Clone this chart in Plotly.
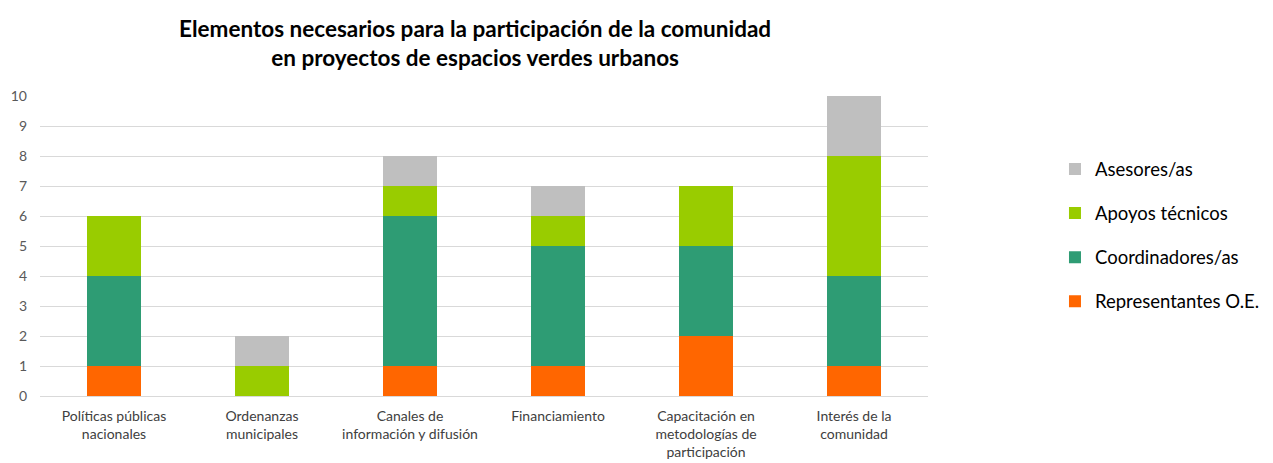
import plotly.graph_objects as go

categories = ["Políticas públicas<br>nacionales", "Ordenanzas<br>municipales",
              "Canales de<br>información y difusión", "Financiamiento",
              "Capacitación en<br>metodologías de<br>participación", "Interés de la<br>comunidad"]
representantes = [1, 0, 1, 1, 2, 1]
coordinadores = [3, 0, 5, 4, 3, 3]
apoyos = [2, 1, 1, 1, 2, 4]
asesores = [0, 1, 1, 1, 0, 2]

series = [
    ("Representantes O.E.", representantes, "#FF6600"),
    ("Coordinadores/as", coordinadores, "#2E9C74"),
    ("Apoyos técnicos", apoyos, "#99CC00"),
    ("Asesores/as", asesores, "#BFBFBF"),
]

font = "Lato, Open Sans, sans-serif"
fig = go.Figure()
for i, (name, vals, col) in enumerate(series):
    fig.add_trace(go.Bar(x=categories, y=vals, name=name, marker_color=col,
                         marker_line_width=0, legendgroup=str(i),
                         legendrank=10 - i))

fig.update_layout(
    width=1265, height=455,
    barmode="stack", bargap=0.64,
    plot_bgcolor="white", paper_bgcolor="white",
    margin=dict(l=32, r=345, t=88, b=67, autoexpand=False),
    title=dict(text="<b>Elementos necesarios para la participación de la comunidad<br>en proyectos de espacios verdes urbanos</b>",
               x=0.49, xref="paper", xanchor="center", y=0.937, yanchor="top",
               font=dict(family=font, size=22.5, color="#000000")),
    font=dict(family=font, size=14, color="#404040"),
    legend=dict(x=1.143, xanchor="left", y=0.535, yanchor="middle",
                traceorder="grouped", tracegroupgap=17, itemwidth=30,
                font=dict(family=font, size=18.5, color="#000000")),
    xaxis=dict(showline=True, linecolor="#D9D9D9", linewidth=1, ticks="",
               automargin=False, ticklabelstandoff=7,
               tickfont=dict(size=14, color="#404040")),
    yaxis=dict(range=[0, 10], dtick=1, showgrid=True, gridcolor="#D9D9D9",
               gridwidth=1, zeroline=False, ticks="", ticklabelstandoff=12,
               automargin=False,
               tickfont=dict(size=14, color="#595959")),
)
fig.write_html("out.html")
